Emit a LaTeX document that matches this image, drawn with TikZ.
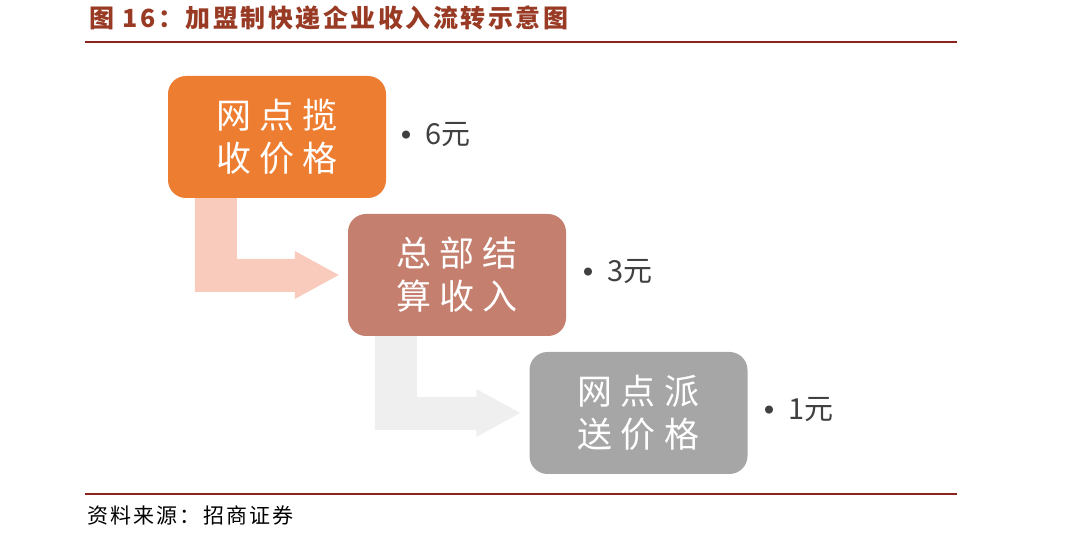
\documentclass[tikz,border=0pt]{standalone}
\usepackage{fontspec}
\usetikzlibrary{positioning, calc, backgrounds}
\newfontfamily\cjk{Noto Sans CJK SC}
\newfontfamily\cjkbox[LetterSpace=24]{Noto Sans CJK SC}
\newfontfamily\cjktitle[LetterSpace=10]{Noto Sans CJK SC}
\definecolor{boxorange}{RGB}{237,125,49}
\definecolor{boxbrown}{RGB}{196,127,110}
\definecolor{boxgray}{RGB}{166,166,166}
\definecolor{arrpink}{RGB}{248,203,189}
\definecolor{arrgray}{RGB}{239,239,239}
\definecolor{titlered}{RGB}{152,58,36}
\definecolor{rulered}{RGB}{140,35,30}
\definecolor{labelgray}{RGB}{64,64,64}

% bent arrow from the bottom of one box to the west side of the next
\newcommand{\bentarrow}[3]{%
  \fill[#3] let \p1=(#1.south west), \p2=(#2.west) in
    (\x1+27,\y1+4) -- (\x1+69,\y1+4) -- (\x1+69,\y2+16) -- (\x2-53,\y2+16)
    -- (\x2-53,\y2+24) -- (\x2-9,\y2) -- (\x2-53,\y2-24) -- (\x2-53,\y2-17)
    -- (\x1+27,\y2-17) -- cycle;}
\newcommand{\pricedot}{\raisebox{-5pt}{\fontsize{38}{30}\selectfont •}}

\begin{document}
\begin{tikzpicture}[
    x=1pt, y=1pt,
    stepbox/.style={rectangle, rounded corners=18pt, minimum width=218pt, minimum height=122pt,
      inner sep=0pt, align=center, text=white, font=\cjkbox\fontsize{35}{43}\selectfont},
    price/.style={anchor=west, text=labelgray, font=\cjk\fontsize{29}{32}\selectfont},
    rule/.style={draw=rulered, line width=2.5pt}
  ]
  \useasboundingbox (0,0) rectangle (1080,534);

  % title and rules
  \node[anchor=west, text=titlered, font=\cjktitle\bfseries\fontsize{25}{30}\selectfont] (title) at (86,516)
    {图 16：加盟制快递企业收入流转示意图};
  \coordinate (topl) at (85,492);
  \coordinate (topr) at (957,492);
  \coordinate (botl) at (85,40);
  \coordinate (botr) at (957,40);
  \draw[rule] (topl) -- (topr);
  \draw[rule] (botl) -- (botr);
  \node[anchor=west, font=\cjktitle\fontsize{21}{25}\selectfont] (source) at (84,18) {资料来源：招商证券};

  % boxes
  \node[stepbox, fill=boxorange] (pickup) at (277,397) {网点揽\\收价格};
  \node[stepbox, fill=boxbrown] (settle) at (457,259) {总部结\\算收入};
  \node[stepbox, fill=boxgray] (deliver) at (638.5,121) {网点派\\送价格};

  % arrows behind the boxes
  \begin{scope}[on background layer]
    \bentarrow{pickup}{settle}{arrpink}
    \bentarrow{settle}{deliver}{arrgray}
  \end{scope}

  % prices
  \node[price] (p1) at ($(pickup.east)+(-2,1)$) {\pricedot\hspace{0pt}6元};
  \node[price] (p2) at ($(settle.east)+(0,2)$) {\pricedot\hspace{0pt}3元};
  \node[price] (p3) at ($(deliver.east)+(-1,2)$) {\pricedot\hspace{0pt}1元};
\end{tikzpicture}
\end{document}
